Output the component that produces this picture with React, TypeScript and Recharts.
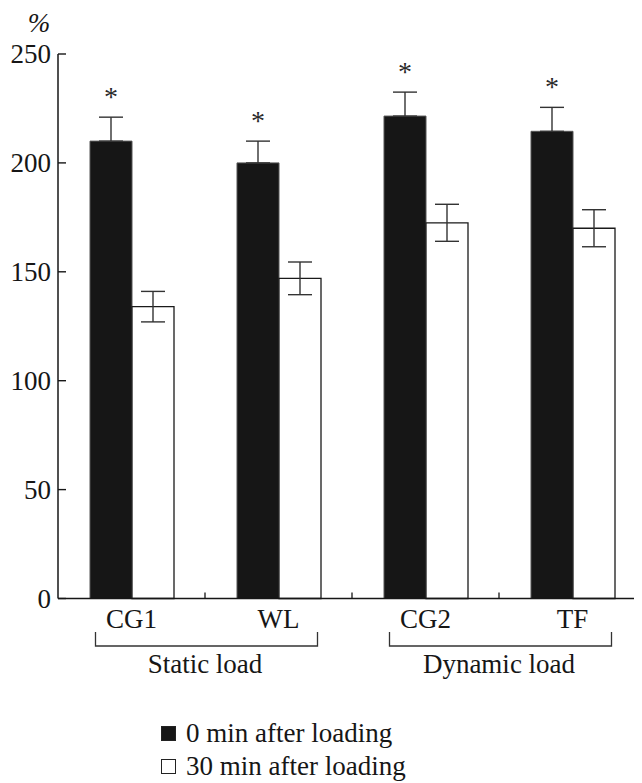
import React from 'react';
import { BarChart, Bar, XAxis, YAxis, ErrorBar, LabelList, Legend } from 'recharts';

const categories = ['CG1', 'WL', 'CG2', 'TF'];
const groupLabels = ['Static load', 'Dynamic load'];
const values0 = [210, 200, 221.5, 214.5];
const errors0 = [11, 10, 11, 11];
const values30 = [134, 147, 172.5, 170];
const errors30 = [7, 7.5, 8.5, 8.5];
const significant = [true, true, true, true];
const yTicks = [0, 50, 100, 150, 200, 250];
const seriesNames = ['0 min after loading', '30 min after loading'];

const data = categories.map((name, i) => ({
  name,
  v0: values0[i],
  e0: [0, errors0[i]],
  v30: values30[i],
  e30: errors30[i],
}));

const FONT = '"Liberation Serif", "Times New Roman", serif';
const INK = '#161616';
const VIEW_W = 642;
const VIEW_H = 783;
const CHART_W = 660;
const MARGIN = { top: 54, right: 14, left: 0, bottom: 0 };
const YAXIS_W = 58;
const XAXIS_H = 184.5;
const BAND = (CHART_W - MARGIN.left - MARGIN.right - YAXIS_W) / categories.length;
const FS = 27;

const YTick = (props: any) => {
  const { x, y, payload } = props;
  return (
    <g>
      <line x1={x} y1={y} x2={x + 8} y2={y} stroke={INK} strokeWidth={1.4} />
      <text x={x - 7} y={y} textAnchor="end" dominantBaseline="central" fontFamily={FONT} fontSize={FS} fill={INK}>
        {payload.value}
      </text>
    </g>
  );
};

const XTick = (props: any) => {
  const { x, y, payload } = props;
  const i = categories.indexOf(payload.value);
  const half = BAND / 2;
  const first = i % 2 === 0;
  return (
    <g>
      {i > 0 && <line x1={x - half} y1={y} x2={x - half} y2={y - 6} stroke={INK} strokeWidth={1.3} />}
      <text x={x} y={y + 29} textAnchor="middle" fontFamily={FONT} fontSize={FS} fill={INK}>
        {payload.value}
      </text>
      {first ? (
        <path d={`M${x - 36},${y + 33.5} V${y + 47.5} H${x + half}`} fill="none" stroke="#333" strokeWidth={1.3} />
      ) : (
        <path d={`M${x - half},${y + 47.5} H${x + 39} V${y + 33.5}`} fill="none" stroke="#333" strokeWidth={1.3} />
      )}
      {first && (
        <text x={x + half} y={y + 74.5} textAnchor="middle" fontFamily={FONT} fontSize={FS} fill={INK}>
          {groupLabels[Math.floor(i / 2)]}
        </text>
      )}
    </g>
  );
};

const Star = (props: any) => {
  const { x, y, width, height, value, index } = props;
  if (!significant[index]) return null;
  const pxPerUnit = height / value;
  const top = y - errors0[index] * pxPerUnit;
  return (
    <text x={x + width / 2} y={top - 11} textAnchor="middle" fontFamily={FONT} fontSize={28} fill="#2a2a2a">
      *
    </text>
  );
};

const LegendContent = (props: any) => {
  const payload = props.payload || [];
  return (
    <div style={{ fontFamily: FONT, fontSize: FS, color: INK, lineHeight: '33px' }}>
      {payload.map((p: any, i: number) => (
        <div key={i} style={{ display: 'flex', alignItems: 'center', whiteSpace: 'nowrap' }}>
          <span
            style={{
              display: 'inline-block',
              width: 13,
              height: 13,
              border: '1px solid #222',
              background: i === 0 ? INK : '#fff',
              marginRight: 10,
            }}
          />
          {p.value}
        </div>
      ))}
    </div>
  );
};

export default function App() {
  return (
    <div style={{ marginLeft: -8, marginTop: -8, width: VIEW_W, height: VIEW_H, overflow: 'hidden', position: 'relative', background: '#fff' }}>
      <BarChart width={CHART_W} height={VIEW_H} data={data} margin={MARGIN} barGap={0} barSize={42}>
        <YAxis
          width={YAXIS_W}
          domain={[0, 250]}
          ticks={yTicks}
          type="number"
          interval={0}
          axisLine={{ stroke: INK, strokeWidth: 1.5 }}
          tickLine={false}
          tickSize={0}
          tickMargin={0}
          tick={<YTick />}
          label={{
            content: (p: any) => (
              <text x={(p.viewBox?.x ?? 0) + 39} y={(p.viewBox?.y ?? 54) - 22} textAnchor="middle" fontFamily={FONT} fontSize={FS} fontStyle="italic" fill={INK}>
                %
              </text>
            ),
          }}
        />
        <XAxis
          dataKey="name"
          height={XAXIS_H}
          interval={0}
          axisLine={{ stroke: INK, strokeWidth: 1.5 }}
          tickLine={false}
          tickSize={0}
          tickMargin={0}
          tick={<XTick />}
        />
        <Legend
          layout="vertical"
          align="center"
          verticalAlign="middle"
          content={<LegendContent />}
          wrapperStyle={{ position: 'absolute', left: 161, top: 717, width: 340 }}
        />
        <Bar dataKey="v0" name={seriesNames[0]} fill={INK} stroke="#555" strokeWidth={1} isAnimationActive={false}>
          <ErrorBar dataKey="e0" width={12} stroke="#333" strokeWidth={1.4} />
          <LabelList dataKey="v0" content={<Star />} />
        </Bar>
        <Bar dataKey="v30" name={seriesNames[1]} fill="#fff" stroke="#1a1a1a" strokeWidth={1.3} isAnimationActive={false}>
          <ErrorBar dataKey="e30" width={12} stroke="#333" strokeWidth={1.4} />
        </Bar>
      </BarChart>
    </div>
  );
}
